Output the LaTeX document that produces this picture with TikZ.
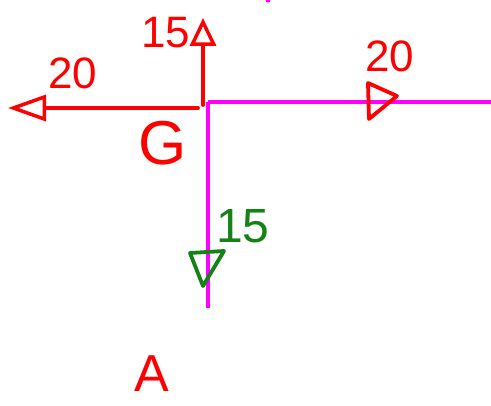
\documentclass[tikz,border=0pt]{standalone}
\usepackage{fontspec}
\setmainfont{Liberation Sans}
\usetikzlibrary{arrows.meta}
\definecolor{pen}{RGB}{255,0,0}
\definecolor{mag}{RGB}{255,0,255}
\definecolor{grn}{RGB}{20,130,20}
\tikzset{
  redline/.style={draw=pen,line width=3.8pt,line cap=round,line join=round},
  magline/.style={draw=mag,line width=3.8pt},
  grnline/.style={draw=grn,line width=3.8pt,line cap=round,line join=round},
  lbl/.style={text=pen,inner sep=0pt,font=\fontsize{44}{44}\selectfont},
  glbl/.style={text=grn,inner sep=0pt,font=\fontsize{48}{48}\selectfont},
  openhead/.style={-{Triangle[open,length=#1,width=26pt,line width=3.5pt]}}
}
\begin{document}
\begin{tikzpicture}[x=1pt,y=-1pt]
\useasboundingbox (0,0) rectangle (491,406);
% named points
\coordinate (G) at (208,102);
\coordinate (E) at (491,102);
\coordinate (S) at (208,308);
\coordinate (Gr) at (203,105);
\coordinate (Up) at (203,18);
\coordinate (Gl) at (198,108);
\coordinate (Lf) at (8,108);
% magenta members
\draw[magline] (G) -- (E);
\draw[magline] (G) -- (S);
\fill[mag] (268,0) circle (2.5);
% red force arrows
\draw[redline,openhead=28pt] (Gr) -- (Up);
\draw[redline,openhead=38pt] (Gl) -- (Lf);
% triangle on horizontal member (pointing right)
\draw[redline] (368,83) -- (397,96) -- (369,119) -- cycle;
% green triangle on vertical member (pointing down)
\draw[grnline] (190,253) -- (224,251) -- (203,286) -- cycle;
% labels
\node[lbl] (t15) at (166,33) {15};
\node[lbl] (t20a) at (73,73) {20};
\node[lbl,font=\fontsize{62}{62}\selectfont] (tG) at (163,143) {G};
\node[lbl] (t20b) at (390,56) {20};
\node[glbl] (g15) at (243,226) {15};
\node[lbl,font=\fontsize{52}{52}\selectfont] (tA) at (152,374) {A};
\end{tikzpicture}
\end{document}
